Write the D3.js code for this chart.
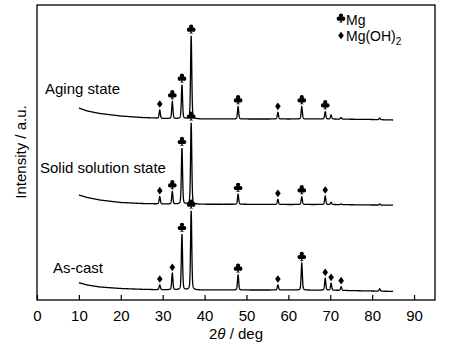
<!DOCTYPE html>
<html><head><meta charset="utf-8">
<script src="https://cdn.jsdelivr.net/npm/d3@7"></script>
<style>
body{margin:0;background:#fff;}
svg{display:block;}
text{font-family:"Liberation Sans",Arial,sans-serif;fill:#000;}
</style></head>
<body><svg id="c" width="453" height="349"></svg>
<script>
// ---- data ----
const xTicks = [0,10,20,30,40,50,60,70,80,90];
const seriesNames = ["Aging state","Solid solution state","As-cast"];
// peak positions (2theta, deg)
const peakPos = [29.3,32.3,34.6,36.8,48.0,57.5,63.2,68.8,70.2,72.6,81.8];
// baseline knots (2theta) and stacked intensities per series
const baseX = [10,12,15,20,25,28,30,40,50,60,70,80,85];
const baseAging = [192,189,186.5,184,182.5,182,181.5,181,181,181,181,180.5,180];
const baseSolid = [105,102.5,100,97.5,96.5,96.2,96,95.7,95.7,95.5,95.5,95,94.8];
const baseCast  = [17.3,15,13,11.5,10.7,10.4,10.3,10,10,10,9.8,9,8.6];
// peak-top intensities (same order as peakPos)
const peakAging = [190,198.3,215,264,193.3,187.7,193.3,188.3,185,182.5,182];
const peakSolid = [103.3,108.3,151.7,177,105.7,100.7,103.3,104,97.7,96,96];
const peakCast  = [15,26.7,65.7,89,25,15,36.7,21.7,16.7,13.3,11.2];
// phase markers per peak: "c" = Mg (club), "d" = Mg(OH)2 (diamond), "" = none
const markAging = ["d","c","c","c","c","d","c","c","","",""];
const markSolid = ["d","c","c","c","c","d","c","d","","",""];
const markCast  = ["d","d","c","c","c","d","c","d","d","d",""];
const legendItems = [{sym:"c",label:"Mg"},{sym:"d",label:"Mg(OH)",sub:"2"}];

// ---- layout ----
const svg = d3.select("#c");
const L=37, R=435, T=5, B=300;
const x = d3.scaleLinear().domain([0,95]).range([L,R]);
const y = d3.scaleLinear().domain([0,295]).range([B,T]);

// custom symbol shapes
const clubSym = {draw(ctx,size){
  const r = Math.sqrt(size)/4.2;
  ctx.moveTo(r, -1.15*r); ctx.arc(0,-1.15*r,r,0,2*Math.PI);
  ctx.moveTo(-0.05*r, 0.35*r); ctx.arc(-1.05*r,0.35*r,r,0,2*Math.PI);
  ctx.moveTo(2.05*r, 0.35*r); ctx.arc(1.05*r,0.35*r,r,0,2*Math.PI);
  ctx.moveTo(-0.35*r,-0.2*r); ctx.lineTo(0.35*r,-0.2*r); ctx.lineTo(0.3*r,1.6*r);
  ctx.lineTo(1.0*r,2.1*r); ctx.lineTo(-1.0*r,2.1*r); ctx.lineTo(-0.3*r,1.6*r); ctx.closePath();
}};
const diamSym = {draw(ctx,size){
  const h = Math.sqrt(size)/2;
  ctx.moveTo(0,-h); ctx.lineTo(0.72*h,0); ctx.lineTo(0,h); ctx.lineTo(-0.72*h,0); ctx.closePath();
}};
const clubPath = d3.symbol().type(clubSym).size(81)();
const diamPath = d3.symbol().type(diamSym).size(60)();
function drawMark(m,cx,cy){
  svg.append("path").attr("d", m==="c"?clubPath:diamPath)
    .attr("transform",`translate(${cx},${cy - (m==="c"?1:0)})`).attr("fill","#000");
}

const series = [
  {name:seriesNames[0], base:baseAging, peaks:peakAging, marks:markAging, lx:45, ly:94},
  {name:seriesNames[1], base:baseSolid, peaks:peakSolid, marks:markSolid, lx:40, ly:172.5},
  {name:seriesNames[2], base:baseCast,  peaks:peakCast,  marks:markCast,  lx:53, ly:272.5}
];

const w=0.17, eta=0.3;
function prof(d){const r=(d/w)*(d/w);return eta/(1+r)+(1-eta)*Math.exp(-Math.LN2*r);}

series.forEach(s=>{
  const bl = d3.scaleLinear().domain(baseX).range(s.base);
  const pts = [];
  for(let t=10;t<=85.0001;t+=0.02){
    let v = bl(t);
    peakPos.forEach((p,i)=>{ v += (s.peaks[i]-bl(p))*prof(t-p); });
    pts.push([t,v]);
  }
  svg.append("path").datum(pts)
    .attr("fill","none").attr("stroke","#000").attr("stroke-width",1.3)
    .attr("d",d3.line().x(d=>x(d[0])).y(d=>y(d[1])));
  peakPos.forEach((p,i)=>{
    const m=s.marks[i]; if(!m) return;
    drawMark(m, x(p), y(s.peaks[i])-6);
  });
  svg.append("text").attr("x",s.lx).attr("y",s.ly).style("font-size","15px").text(s.name);
});

// frame
svg.append("rect").attr("x",L).attr("y",T).attr("width",R-L).attr("height",B-T)
  .attr("fill","none").attr("stroke","#000").attr("stroke-width",1.3);

// x axis
const ax = svg.append("g").attr("transform",`translate(0,${B})`)
  .call(d3.axisBottom(x).tickValues(xTicks).tickSizeInner(-5).tickSizeOuter(0).tickPadding(10));
ax.select(".domain").remove();
ax.selectAll(".tick line").attr("stroke","#000").attr("stroke-width",1.2);
ax.selectAll(".tick text").style("font-family","'Liberation Sans',Arial,sans-serif").style("font-size","15px").attr("fill","#000");

// axis titles
const xt = svg.append("text").attr("x",236).attr("y",339).attr("text-anchor","middle").style("font-size","15px");
xt.append("tspan").text("2");
xt.append("tspan").style("font-style","italic").text("θ");
xt.append("tspan").text(" / deg");
svg.append("text").attr("transform","translate(26,152) rotate(-90)").attr("text-anchor","middle")
  .style("font-size","15px").text("Intensity / a.u.");

// legend
legendItems.forEach((d,i)=>{
  const gy = 19 + i*16.5;
  drawMark(d.sym, 341, gy);
  const t = svg.append("text").attr("x",346).attr("y",gy+5.5).style("font-size","14px");
  t.append("tspan").text(d.label);
  if(d.sub) t.append("tspan").attr("dy",4).style("font-size","10px").text(d.sub);
});
</script></body></html>
